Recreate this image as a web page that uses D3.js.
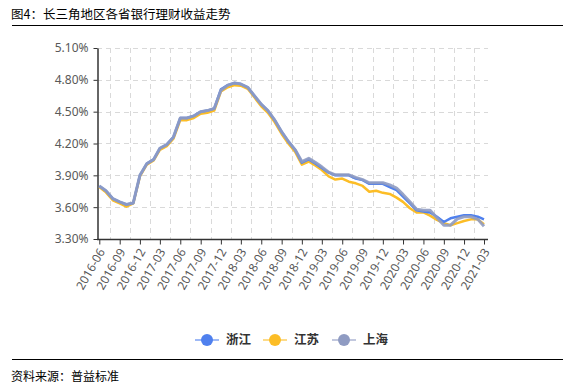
<!DOCTYPE html>
<html>
<head>
<meta charset="utf-8">
<script src="https://cdn.jsdelivr.net/npm/d3@7"></script>
<style>
  body { margin: 0; background: #fff; }
  svg { display: block; }
</style>
</head>
<body>
<div id="chart"></div>
<script>
// monthly, 2016-06 .. 2021-03
var startMonth = "2016-06";
var tickLabels = ["2016-06", "2016-09", "2016-12", "2017-03", "2017-06", "2017-09", "2017-12",
    "2018-03", "2018-06", "2018-09", "2018-12", "2019-03", "2019-06", "2019-09", "2019-12",
    "2020-03", "2020-06", "2020-09", "2020-12", "2021-03"];
var yTicks = [3.3, 3.6, 3.9, 4.2, 4.5, 4.8, 5.1];

var zhejiang = [3.80, 3.755, 3.68, 3.65, 3.625, 3.64, 3.90, 4.01, 4.05, 4.155, 4.19, 4.26,
    4.44, 4.44, 4.46, 4.50, 4.51, 4.53, 4.71, 4.75, 4.77, 4.76, 4.73, 4.65, 4.57, 4.51,
    4.42, 4.31, 4.22, 4.14, 4.02, 4.05, 4.01, 3.97, 3.925, 3.90, 3.90, 3.90, 3.87, 3.855,
    3.82, 3.82, 3.82, 3.79, 3.76, 3.70, 3.635, 3.57, 3.56, 3.55, 3.51, 3.46, 3.495, 3.51,
    3.525, 3.525, 3.51, 3.485];
var jiangsu = [3.79, 3.74, 3.665, 3.635, 3.605, 3.635, 3.89, 4.00, 4.04, 4.14, 4.175, 4.245,
    4.42, 4.42, 4.44, 4.48, 4.49, 4.51, 4.69, 4.73, 4.75, 4.745, 4.715, 4.635, 4.55, 4.49,
    4.40, 4.29, 4.20, 4.12, 4.00, 4.03, 3.99, 3.95, 3.89, 3.86, 3.87, 3.84, 3.825, 3.80,
    3.745, 3.755, 3.735, 3.725, 3.69, 3.65, 3.59, 3.55, 3.55, 3.52, 3.48, 3.45, 3.43, 3.45,
    3.47, 3.485, 3.485, 3.44];
var shanghai = [3.80, 3.755, 3.68, 3.65, 3.625, 3.64, 3.90, 4.01, 4.05, 4.155, 4.19, 4.26,
    4.44, 4.44, 4.46, 4.50, 4.51, 4.53, 4.70, 4.75, 4.77, 4.76, 4.73, 4.65, 4.57, 4.51,
    4.42, 4.31, 4.22, 4.14, 4.03, 4.06, 4.02, 3.98, 3.93, 3.905, 3.905, 3.905, 3.88, 3.86,
    3.83, 3.83, 3.83, 3.81, 3.78, 3.72, 3.65, 3.58, 3.57, 3.57, 3.50, 3.43, 3.43, 3.49,
    3.51, 3.51, 3.485, 3.42];

var seriesNames = ["浙江", "江苏", "上海"];
var colors = ["#4f80ee", "#fcbd26", "#8f9bc2"];

var width = 575;
var height = 387;

var svg = d3.select("#chart")
    .append("svg")
    .attr("width", width)
    .attr("height", height)
    .style("font-family", "'Noto Sans', 'Noto Sans CJK SC', sans-serif");

var parse = d3.timeParse("%Y-%m");
var start = parse(startMonth);
var months = zhejiang.map(function (d, i) { return d3.timeMonth.offset(start, i); });

var x = d3.scaleTime()
    .domain([months[0], months[months.length - 1]])
    .range([99.3, 484]);
var y = d3.scaleLinear()
    .domain([3.3, 5.1])
    .range([239, 48]);

// header / footer
svg.append("text")
    .attr("x", 11).attr("y", 19)
    .style("font-family", "'Noto Sans CJK SC', sans-serif")
    .style("font-size", "12.5px")
    .attr("fill", "#000")
    .text("图4：长三角地区各省银行理财收益走势");
svg.append("line")
    .attr("x1", 12).attr("x2", 563).attr("y1", 25.5).attr("y2", 25.5)
    .attr("stroke", "#000").attr("stroke-width", 1);
svg.append("line")
    .attr("x1", 12).attr("x2", 563).attr("y1", 359.5).attr("y2", 359.5)
    .attr("stroke", "#000").attr("stroke-width", 1);
svg.append("text")
    .attr("x", 11).attr("y", 381)
    .style("font-family", "'Noto Sans CJK SC', sans-serif")
    .style("font-size", "12px")
    .attr("fill", "#000")
    .text("资料来源：普益标准");

// grid
var gridH = svg.append("g");
gridH.selectAll("line")
    .data(yTicks.slice(1))
    .enter()
    .append("line")
    .attr("x1", 97).attr("x2", 488)
    .attr("y1", function (d) { return Math.round(y(d)) + 0.5; })
    .attr("y2", function (d) { return Math.round(y(d)) + 0.5; })
    .attr("stroke", "#d9d9d9")
    .attr("stroke-dasharray", "5,4");

var gridV = svg.append("g");
gridV.selectAll("line")
    .data(tickLabels.slice(0, -1))
    .enter()
    .append("line")
    .attr("x1", function (d) { return Math.round((x(parse(d)) + x(d3.timeMonth.offset(parse(d), 3))) / 2) + 0.5; })
    .attr("x2", function (d) { return Math.round((x(parse(d)) + x(d3.timeMonth.offset(parse(d), 3))) / 2) + 0.5; })
    .attr("y1", 48).attr("y2", 239)
    .attr("stroke", "#d9d9d9")
    .attr("stroke-dasharray", "5,4");

// y axis
var yAxis = svg.append("g")
    .attr("transform", "translate(97.5,0)")
    .call(d3.axisLeft(y).tickValues(yTicks).tickSize(4).tickSizeOuter(0)
        .tickFormat(function (d) { return d.toFixed(2) + "%"; }));
yAxis.select(".domain").attr("stroke", "#333").attr("stroke-width", 1.5);
yAxis.selectAll(".tick line").attr("stroke", "#333");
yAxis.selectAll(".tick text")
    .attr("fill", "#595959")
    .style("font-size", "12px")
    .style("font-family", "'Noto Sans', sans-serif")
    .attr("x", -9);

// x axis
var xAxis = svg.append("g")
    .attr("transform", "translate(0,239.5)")
    .call(d3.axisBottom(x)
        .tickValues(tickLabels.map(parse))
        .tickSize(5).tickSizeOuter(0)
        .tickFormat(d3.timeFormat("%Y-%m")));
xAxis.select(".domain").attr("d", "M97,0H488").attr("stroke", "#333").attr("stroke-width", 1.5);
xAxis.selectAll(".tick line").attr("stroke", "#333");
xAxis.selectAll(".tick text")
    .attr("fill", "#595959")
    .style("font-size", "12px")
    .style("font-family", "'Noto Sans', sans-serif")
    .attr("text-anchor", "end")
    .attr("dy", "0.35em")
    .attr("x", 0).attr("y", 0)
    .attr("transform", "translate(2,10) rotate(-60)");

// lines
var line = d3.line()
    .x(function (d, i) { return x(months[i]); })
    .y(function (d) { return y(d); });

var order = [1, 0, 2];
var allSeries = [zhejiang, jiangsu, shanghai];
order.forEach(function (k) {
    svg.append("path")
        .datum(allSeries[k])
        .attr("d", line)
        .attr("fill", "none")
        .attr("stroke", colors[k])
        .attr("stroke-width", k === 2 ? 3 : 2.5)
        .attr("stroke-opacity", k === 2 ? 0.9 : 1)
        .attr("stroke-linejoin", "round");
});

// legend
var legendX = [195, 263, 332];
var legend = svg.selectAll(".legend")
    .data(seriesNames)
    .enter()
    .append("g")
    .attr("class", "legend")
    .attr("transform", function (d, i) { return "translate(" + legendX[i] + ",340)"; });

legend.append("line")
    .attr("x1", 0).attr("x2", 24)
    .attr("stroke", function (d, i) { return colors[i]; })
    .attr("stroke-opacity", 0.55)
    .attr("stroke-width", 2);
legend.append("circle")
    .attr("cx", 12).attr("r", 6)
    .attr("fill", function (d, i) { return colors[i]; });
legend.append("text")
    .attr("x", 31).attr("dy", "0.35em")
    .style("font-family", "'Noto Sans CJK SC', sans-serif")
    .style("font-size", "12.5px")
    .style("font-weight", "bold")
    .attr("fill", "#333")
    .text(function (d) { return d; });
</script>
</body>
</html>
